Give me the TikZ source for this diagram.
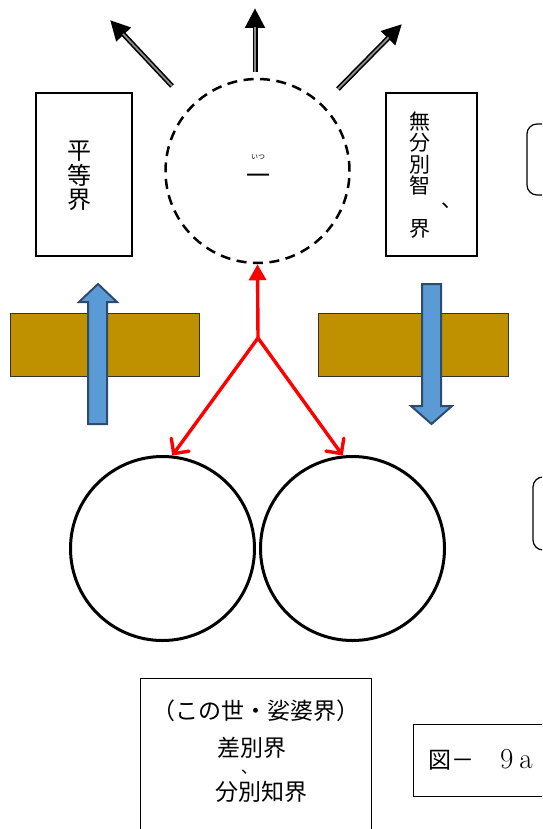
\documentclass[tikz,border=0pt]{standalone}
\usepackage{fontspec}
\newfontfamily\cjk{Noto Sans CJK JP}
\usetikzlibrary{arrows.meta}
\definecolor{gold}{HTML}{BF9000}
\definecolor{blu}{HTML}{5B9BD5}
\definecolor{bluedge}{HTML}{2E4B6E}
\begin{document}
\begin{tikzpicture}[x=1pt,y=-1pt,
  box/.style={draw=black,line width=1.2pt,inner sep=0pt},
  ring/.style={draw=black,circle,line width=3pt,minimum size=184pt,inner sep=0pt},
  dashring/.style={draw=black,circle,line width=2.5pt,minimum size=184pt,inner sep=0pt,dash pattern=on 10pt off 6.5pt},
  bar/.style={draw=black!80,line width=0.8pt,fill=gold},
  bluearrow/.style={draw=bluedge,line width=2pt,fill=blu,line join=miter},
  rayout/.style={line width=5pt,black,-{Triangle[length=20pt,width=19pt]}},
  rayin/.style={line width=1.8pt,black!45,shorten >=19pt},
  redup/.style={red,line width=3.4pt,-{Triangle[length=16pt,width=17pt]}},
  reddown/.style={red,line width=3.4pt,line cap=round,-{Straight Barb[length=11pt,width=22pt,line cap=round]}},
  txt/.style={inner sep=0pt,align=center}]
\useasboundingbox (0,0) rectangle (542,829);
\clip (0,0) rectangle (542,829);

% top rays
\coordinate (a1s) at (172,86);  \coordinate (a1e) at (110,20);
\coordinate (a2s) at (255,72);  \coordinate (a2e) at (255,8);
\coordinate (a3s) at (338,89);  \coordinate (a3e) at (402,24);
\draw[rayout] (a1s) -- (a1e);  \draw[rayin] (a1s) -- (a1e);
\draw[rayout] (a2s) -- (a2e);  \draw[rayin] (a2s) -- (a2e);
\draw[rayout] (a3s) -- (a3e);  \draw[rayin] (a3s) -- (a3e);

% dashed circle
\node[dashring] (one) at (257.5,171) {};
\node[txt,font=\cjk\fontsize{24}{24}\selectfont] (ichi) at (258,179) {一};
\node[txt,font=\cjk\fontsize{7}{7}\selectfont] (ruby) at (258,157) {いつ};

% left box
\node[box,minimum width=96pt,minimum height=163pt] (eq) at (84,174.5) {};
\node[txt,font=\cjk\fontsize{24}{24.5}\selectfont] (eqtext) at (79,176) {平\\等\\界};

% right box
\node[box,minimum width=91pt,minimum height=163pt] (nodis) at (431.5,174.5) {};
\node[txt,font=\cjk\fontsize{21}{21.3}\selectfont] (nodistext) at (420,175) {無\\分\\別\\智\\\mbox{}\\界};
\node[txt,font=\cjk\fontsize{21}{21}\selectfont] (comma) at (452,206) {、};

% partial rounded boxes at right edge
\draw[line width=1.2pt,rounded corners=10pt] (527,124) rectangle (570,195);
\draw[line width=1.2pt,rounded corners=10pt] (533,477) rectangle (570,550);

% brown bars
\draw[bar] (10,313) rectangle (199,376);
\draw[bar] (318,313) rectangle (508,376);

% blue arrows
\draw[bluearrow] (88,424) -- (88,302) -- (79,302) -- (98,284) -- (117,302) -- (107,302) -- (107,424) -- cycle;
\draw[bluearrow] (422,284) -- (441,284) -- (441,406) -- (452,406) -- (431.5,424) -- (411,406) -- (422,406) -- cycle;

% two circles
\node[ring] (L) at (162.5,548.5) {};
\node[ring] (R) at (352.5,548.5) {};

% red arrows
\coordinate (J) at (258,338);
\draw[redup] (J) -- (one.south);
\draw[reddown] (J) -- (L.84);
\draw[reddown] (J) -- (R.96);

% bottom box
\node[box,minimum width=231pt,minimum height=180pt,anchor=north west] (world) at (140,678) {};
\node[txt,font=\cjk\fontsize{23}{23}\selectfont] (w1) at (256,711) {（この世・娑婆界）};
\node[txt,font=\cjk\fontsize{23}{23}\selectfont] (w2) at (252,748) {差別界};
\node[txt,font=\cjk\fontsize{16}{16}\selectfont] (w3) at (249,772) {、};
\node[txt,font=\cjk\fontsize{23}{23}\selectfont] (w4) at (261,792) {分別知界};

% figure label box
\node[box,minimum width=150pt,minimum height=72pt,anchor=north west] (fig) at (413,724) {};
\node[txt,anchor=west,font=\cjk\fontsize{23}{23}\selectfont] (figtext) at (428,760) {図－\hspace{26pt}{\rmfamily\fontsize{29}{29}\selectfont 9\hspace{6pt}a}};
\end{tikzpicture}
\end{document}
